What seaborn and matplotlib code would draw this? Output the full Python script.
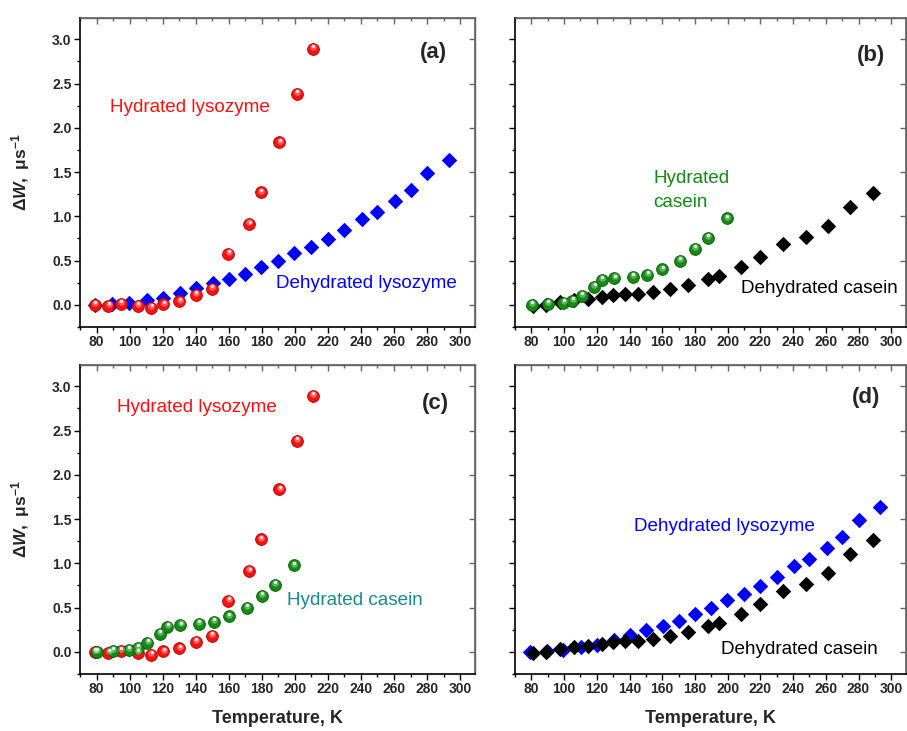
import numpy as np
import pandas as pd
import matplotlib
matplotlib.use("Agg")
import matplotlib.pyplot as plt
from matplotlib.ticker import MultipleLocator, NullFormatter
from matplotlib.transforms import ScaledTranslation
import seaborn as sns

# ---- data (temperature in K, line-width change in 1/us) ----
hyd_lys_T = [79, 87, 94.7, 105, 113, 120.4, 130, 140, 149.7, 159.8, 172.3, 179.4, 190.5, 201, 210.7]
hyd_lys_W = [0.0, -0.01, 0.01, -0.015, -0.03, 0.005, 0.04, 0.11, 0.18, 0.577, 0.91, 1.27, 1.834, 2.38, 2.887]

dehyd_lys_T = [79, 89.5, 99.6, 110.3, 120, 130.5, 140, 150.3, 160.4, 170.1, 179.8, 189.9,
               199.6, 209.7, 219.8, 229.9, 240.8, 249.9, 260.6, 270.1, 280.2, 293.1]
dehyd_lys_W = [-0.005, 0.01, 0.02, 0.05, 0.08, 0.136, 0.19, 0.25, 0.29, 0.35, 0.43, 0.49,
               0.59, 0.65, 0.74, 0.84, 0.97, 1.05, 1.17, 1.30, 1.487, 1.634]

hyd_cas_T = [80.2, 89.9, 99.4, 104.9, 110.8, 118.3, 122.9, 130.8, 141.9, 150.8, 159.9, 170.8, 179.9, 187.8, 199.3]
hyd_cas_W = [0.0, 0.01, 0.026, 0.045, 0.10, 0.20, 0.28, 0.30, 0.32, 0.34, 0.40, 0.50, 0.63, 0.755, 0.977]

dehyd_cas_T = [80.8, 89.1, 97.8, 106.3, 114.4, 123.1, 130.2, 137, 145, 154.6, 164.9, 176,
               187.8, 194.9, 208, 219.7, 233.7, 248, 261.6, 274.7, 288.9]
dehyd_cas_W = [-0.01, 0.0, 0.03, 0.057, 0.07, 0.094, 0.11, 0.125, 0.125, 0.14, 0.18, 0.23,
               0.29, 0.33, 0.43, 0.54, 0.69, 0.77, 0.89, 1.11, 1.26]

x_ticks = list(range(80, 301, 20))
y_ticks = [0.0, 0.5, 1.0, 1.5, 2.0, 2.5, 3.0]

RED, BLUE, GREEN, BLACK, TEAL = "#ff1010", "#0000ff", "#138a13", "#000000", "#1a8a8a"

sns.set_theme(style="ticks")
plt.rcParams["font.family"] = ["Liberation Sans", "DejaVu Sans"]
plt.rcParams["mathtext.fontset"] = "custom"
plt.rcParams["mathtext.rm"] = "Liberation Sans:bold"
plt.rcParams["mathtext.bf"] = "Liberation Sans:bold"
plt.rcParams["mathtext.it"] = "Liberation Sans:bold:italic"

fig = plt.figure(figsize=(9.07, 7.31), dpi=100)
L1, L2, W = 80 / 907, 515 / 907, 395 / 907
H = 309 / 731
B1, B2 = 1 - 327 / 731, 1 - 674 / 731
axA = fig.add_axes([L1, B1, W, H])
axB = fig.add_axes([L2, B1, 391 / 907, H])
axC = fig.add_axes([L1, B2, W, H])
axD = fig.add_axes([L2, B2, 391 / 907, H])


def spheres(ax, T, Wv, color, dark):
    df = pd.DataFrame({"T": T, "W": Wv})
    sns.scatterplot(data=df, x="T", y="W", ax=ax, s=72, color=color,
                    edgecolor=dark, linewidth=0.6, zorder=4, legend=False)
    mid = ax.transData + ScaledTranslation(0.3 / 72, 1.3 / 72, fig.dpi_scale_trans)
    sns.scatterplot(data=df, x="T", y="W", ax=ax, s=22, color="white", alpha=0.35,
                    linewidth=0, zorder=5, legend=False, transform=mid)
    hi = ax.transData + ScaledTranslation(0.4 / 72, 2.0 / 72, fig.dpi_scale_trans)
    sns.scatterplot(data=df, x="T", y="W", ax=ax, s=5, color="white", alpha=0.9,
                    linewidth=0, zorder=6, legend=False, transform=hi)


def diamonds(ax, T, Wv, color, z=3):
    df = pd.DataFrame({"T": T, "W": Wv})
    sns.scatterplot(data=df, x="T", y="W", ax=ax, marker="D", s=62, color=color,
                    linewidth=0, zorder=z, legend=False)


# (a) lysozyme, hydrated vs dehydrated
diamonds(axA, dehyd_lys_T, dehyd_lys_W, BLUE)
spheres(axA, hyd_lys_T, hyd_lys_W, RED, "#b00000")
axA.text(88, 2.23, "Hydrated lysozyme", color=RED, fontsize=13.6, va="center")
axA.text(188.4, 0.24, "Dehydrated lysozyme", color=BLUE, fontsize=13.6, va="center")

# (b) casein, hydrated vs dehydrated
diamonds(axB, dehyd_cas_T, dehyd_cas_W, BLACK)
spheres(axB, hyd_cas_T, hyd_cas_W, GREEN, "#0a5a0a")
axB.text(154.7, 1.43, "Hydrated", color=GREEN, fontsize=13.6, va="center")
axB.text(154.7, 1.155, "casein", color=GREEN, fontsize=13.6, va="center")
axB.text(208.4, 0.18, "Dehydrated casein", color=BLACK, fontsize=13.6, va="center")

# (c) hydrated proteins
spheres(axC, hyd_lys_T, hyd_lys_W, RED, "#b00000")
spheres(axC, hyd_cas_T, hyd_cas_W, GREEN, "#0a5a0a")
axC.text(92.1, 2.755, "Hydrated lysozyme", color=RED, fontsize=13.6, va="center")
axC.text(195, 0.585, "Hydrated casein", color=TEAL, fontsize=13.6, va="center")

# (d) dehydrated proteins
diamonds(axD, dehyd_lys_T, dehyd_lys_W, BLUE, z=3)
diamonds(axD, dehyd_cas_T, dehyd_cas_W, BLACK, z=4)
axD.text(142.6, 1.415, "Dehydrated lysozyme", color=BLUE, fontsize=13.6, va="center")
axD.text(196, 0.027, "Dehydrated casein", color=BLACK, fontsize=13.6, va="center")

panel_pos = {"(a)": (292, 2.85), "(b)": (296.5, 2.82), "(c)": (293, 2.81), "(d)": (293.5, 2.87)}
GRAY = "#666666"
for ax, tag in zip([axA, axB, axC, axD], ["(a)", "(b)", "(c)", "(d)"]):
    ax.set_xlim(70, 309)
    ax.set_ylim(-0.25, 3.24)
    ax.set_xticks(x_ticks)
    ax.set_xticklabels([str(v) for v in x_ticks], fontweight="bold", fontsize=10)
    ax.xaxis.set_minor_locator(MultipleLocator(10))
    ax.set_yticks(y_ticks)
    ax.yaxis.set_minor_locator(MultipleLocator(0.25))
    ax.tick_params(axis="both", which="major", direction="out", length=4, width=1,
                   color="black", pad=2)
    ax.tick_params(axis="both", which="minor", direction="out", length=2.5, width=1,
                   color="black")
    for side in ("left", "bottom"):
        ax.spines[side].set_linewidth(1.2)
        ax.spines[side].set_color("black")
    for side in ("top", "right"):
        ax.spines[side].set_visible(True)
        ax.spines[side].set_linewidth(1.0)
        ax.spines[side].set_color(GRAY)
    ax.set_xlabel("")
    ax.set_ylabel("")
    ax.grid(False)
    ax.set_facecolor("white")

    top = ax.secondary_xaxis("top")
    top.set_xticks(x_ticks)
    top.xaxis.set_minor_locator(MultipleLocator(10))
    top.tick_params(axis="x", which="both", direction="in", labeltop=False, color=GRAY, width=1)
    top.tick_params(axis="x", which="major", length=4)
    top.tick_params(axis="x", which="minor", length=2.5)
    top.spines["top"].set_color(GRAY)
    right = ax.secondary_yaxis("right")
    right.set_yticks(y_ticks)
    right.tick_params(axis="y", which="major", direction="in", length=4, width=1,
                      labelright=False, color=GRAY)
    right.spines["right"].set_color(GRAY)

    tx, ty = panel_pos[tag]
    ax.text(tx, ty, tag, fontsize=16, fontweight="bold", ha="right", va="center")

for ax in (axA, axC):
    ax.set_yticklabels([f"{v:.1f}" for v in y_ticks], fontweight="bold", fontsize=10)
    ax.set_ylabel(r"$\mathrm{\Delta}W\mathrm{,\ \mu s^{-1}}$", fontsize=12.5)
    ax.yaxis.set_label_coords(-0.122, 0.5)
for ax in (axB, axD):
    ax.yaxis.set_major_formatter(NullFormatter())
for ax in (axC, axD):
    ax.set_xlabel("Temperature, K", fontsize=13, fontweight="bold")
    ax.xaxis.set_label_coords(0.5, -0.115)

fig.savefig("out.png", dpi=100, facecolor="white")
